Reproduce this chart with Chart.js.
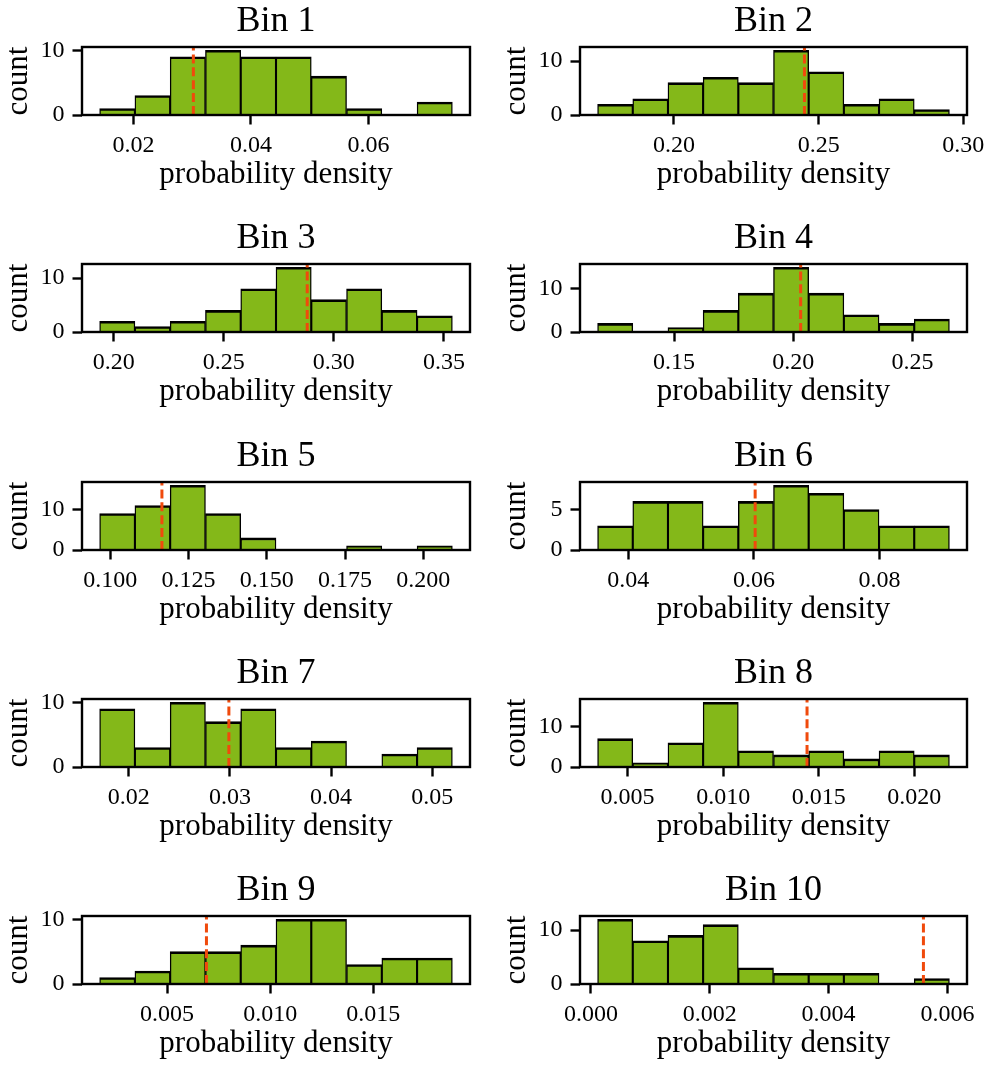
<!DOCTYPE html>
<html>
<head>
<meta charset="utf-8">
<title>Bin histograms</title>
<script src="https://cdn.jsdelivr.net/npm/chart.js"></script>
<style>
  html, body { margin: 0; padding: 0; background: #fff; overflow: hidden; }
  body { position: relative; width: 989px; height: 1065px; }
  canvas { position: absolute; }
</style>
</head>
<body>
<script>
// values
const titles = ['Bin 1', 'Bin 2', 'Bin 3', 'Bin 4', 'Bin 5', 'Bin 6', 'Bin 7', 'Bin 8', 'Bin 9', 'Bin 10'];

const counts1 = [1, 3, 9, 10, 9, 9, 6, 1, 0, 2];
const counts2 = [2, 3, 6, 7, 6, 12, 8, 2, 3, 1];
const counts3 = [2, 1, 2, 4, 8, 12, 6, 8, 4, 3];
const counts4 = [2, 0, 1, 5, 9, 15, 9, 4, 2, 3];
const counts5 = [9, 11, 16, 9, 3, 0, 0, 1, 0, 1];
const counts6 = [3, 6, 6, 3, 6, 8, 7, 5, 3, 3];
const counts7 = [9, 3, 10, 7, 9, 3, 4, 0, 2, 3];
const counts8 = [7, 1, 6, 16, 4, 3, 4, 2, 4, 3];
const counts9 = [1, 2, 5, 5, 6, 10, 10, 3, 4, 4];
const counts10 = [12, 8, 9, 11, 3, 2, 2, 2, 0, 1];

// first and last bin edge of each histogram
const binLo = [0.01426, 0.1736, 0.19364, 0.1179, 0.0966, 0.03513, 0.01713, 0.00343, 0.001728, 0.000111];
const binHi = [0.07425, 0.2952, 0.35382, 0.2655, 0.2093, 0.09111, 0.05198, 0.02184, 0.01884, 0.006034];

// red dashed reference value
const means = [0.0302, 0.2451, 0.2879, 0.2031, 0.1165, 0.0602, 0.0299, 0.01439, 0.00691, 0.0055966];

const xTicks1 = ['0.02', '0.04', '0.06'];
const xTicks2 = ['0.20', '0.25', '0.30'];
const xTicks3 = ['0.20', '0.25', '0.30', '0.35'];
const xTicks4 = ['0.15', '0.20', '0.25'];
const xTicks5 = ['0.100', '0.125', '0.150', '0.175', '0.200'];
const xTicks6 = ['0.04', '0.06', '0.08'];
const xTicks7 = ['0.02', '0.03', '0.04', '0.05'];
const xTicks8 = ['0.005', '0.010', '0.015', '0.020'];
const xTicks9 = ['0.005', '0.010', '0.015'];
const xTicks10 = ['0.000', '0.002', '0.004', '0.006'];

const yTicksTen = ['0', '10'];
const yTicksFive = ['0', '5'];

const counts = [counts1, counts2, counts3, counts4, counts5, counts6, counts7, counts8, counts9, counts10];
const xTicks = [xTicks1, xTicks2, xTicks3, xTicks4, xTicks5, xTicks6, xTicks7, xTicks8, xTicks9, xTicks10];
const yTicks = [yTicksTen, yTicksTen, yTicksTen, yTicksTen, yTicksTen, yTicksFive, yTicksTen, yTicksTen, yTicksTen, yTicksTen];

Chart.defaults.font.family = "'Liberation Serif', 'DejaVu Serif', serif";
Chart.defaults.color = '#000';

const meanLine = {
    id: 'meanLine',
    afterDatasetsDraw(chart, args, opts) {
        const x = chart.scales.x.getPixelForValue(opts.value);
        const area = chart.chartArea;
        const c = chart.ctx;
        c.save();
        c.strokeStyle = opts.color;
        c.lineWidth = 3;
        c.setLineDash([9, 3.9]);
        c.beginPath();
        c.moveTo(x, area.bottom);
        c.lineTo(x, area.top);
        c.stroke();
        c.restore();
    }
};

// matplotlib style box around the axes
const frame = {
    id: 'frame',
    afterDraw(chart) {
        const a = chart.chartArea;
        const c = chart.ctx;
        c.save();
        c.strokeStyle = '#000';
        c.lineWidth = 2.4;
        c.strokeRect(a.left, a.top, a.right - a.left, a.bottom - a.top);
        c.restore();
    }
};

for (let i = 0; i < counts.length; i++) {
    const col = i % 2;
    const row = Math.floor(i / 2);
    const yW = col === 0 ? 82 : 86;   // room left (and right) of the axes box

    const canvas = document.createElement('canvas');
    canvas.width = col === 0 ? 552 : 559;
    canvas.height = 217;
    canvas.style.width = canvas.width + 'px';
    canvas.style.height = canvas.height + 'px';
    canvas.style.left = (col === 0 ? 0 : 494) + 'px';
    canvas.style.top = Math.round(row * 217.35) + 'px';
    document.body.appendChild(canvas);

    const lo = binLo[i], hi = binHi[i];
    const w = (hi - lo) / counts[i].length;
    const margin = 0.05 * (hi - lo);
    const yMax = Math.max(...counts[i]) * 1.05;

    new Chart(canvas, {
        type: 'bar',
        data: {
            datasets: [{
                data: counts[i].map((c, k) => ({ x: lo + (k + 0.5) * w, y: c })),
                backgroundColor: '#84b819',
                borderColor: '#000',
                borderWidth: { top: 2.6, left: 1.4, right: 1.4, bottom: 0 },
                borderSkipped: false,
                barPercentage: 1,
                categoryPercentage: 1
            }]
        },
        options: {
            responsive: false,
            animation: false,
            devicePixelRatio: 1,
            layout: { padding: 0 },
            plugins: {
                legend: { display: false },
                tooltip: { enabled: false },
                title: {
                    display: true,
                    text: titles[i],
                    color: '#000',
                    font: { size: 36, weight: 'normal' },
                    padding: { top: 0, bottom: 3.8 }
                },
                meanLine: { value: means[i], color: '#f04a0c' }
            },
            scales: {
                x: {
                    type: 'linear',
                    min: lo - margin,
                    max: hi + margin,
                    offset: false,
                    grid: { display: true, drawOnChartArea: false, offset: false, tickLength: 9.5, tickWidth: 2.4, tickColor: '#000' },
                    border: { display: false },
                    afterBuildTicks: s => { s.ticks = xTicks[i].map(t => ({ value: parseFloat(t) })); },
                    afterFit: s => { s.height = 102; },
                    ticks: {
                        autoSkip: false,
                        maxRotation: 0,
                        padding: 6.7,
                        color: '#000',
                        font: { size: 24 },
                        callback: (v, k) => xTicks[i][k]
                    },
                    title: {
                        display: true,
                        text: 'probability density',
                        color: '#000',
                        font: { size: 31 },
                        padding: { top: 0, bottom: 23.4 }
                    }
                },
                y: {
                    type: 'linear',
                    min: 0,
                    max: yMax,
                    grid: { display: true, drawOnChartArea: false, tickLength: 9.5, tickWidth: 2.4, tickColor: '#000' },
                    border: { display: false },
                    afterBuildTicks: s => { s.ticks = yTicks[i].map(t => ({ value: parseFloat(t) })); },
                    afterFit: s => { s.width = yW; },
                    ticks: {
                        autoSkip: false,
                        padding: 8,
                        color: '#000',
                        font: { size: 24 },
                        callback: (v, k) => yTicks[i][k]
                    },
                    title: {
                        display: true,
                        text: 'count',
                        color: '#000',
                        font: { size: 31 },
                        padding: { top: yW - 82.1, bottom: 0 }
                    }
                },
                // empty right-hand scale so the title centres over the axes box
                pad: {
                    type: 'linear',
                    position: 'right',
                    display: true,
                    grid: { display: false },
                    border: { display: false },
                    ticks: { display: false },
                    afterFit: s => { s.width = yW; }
                }
            }
        },
        plugins: [meanLine, frame]
    });
}
</script>
</body>
</html>
